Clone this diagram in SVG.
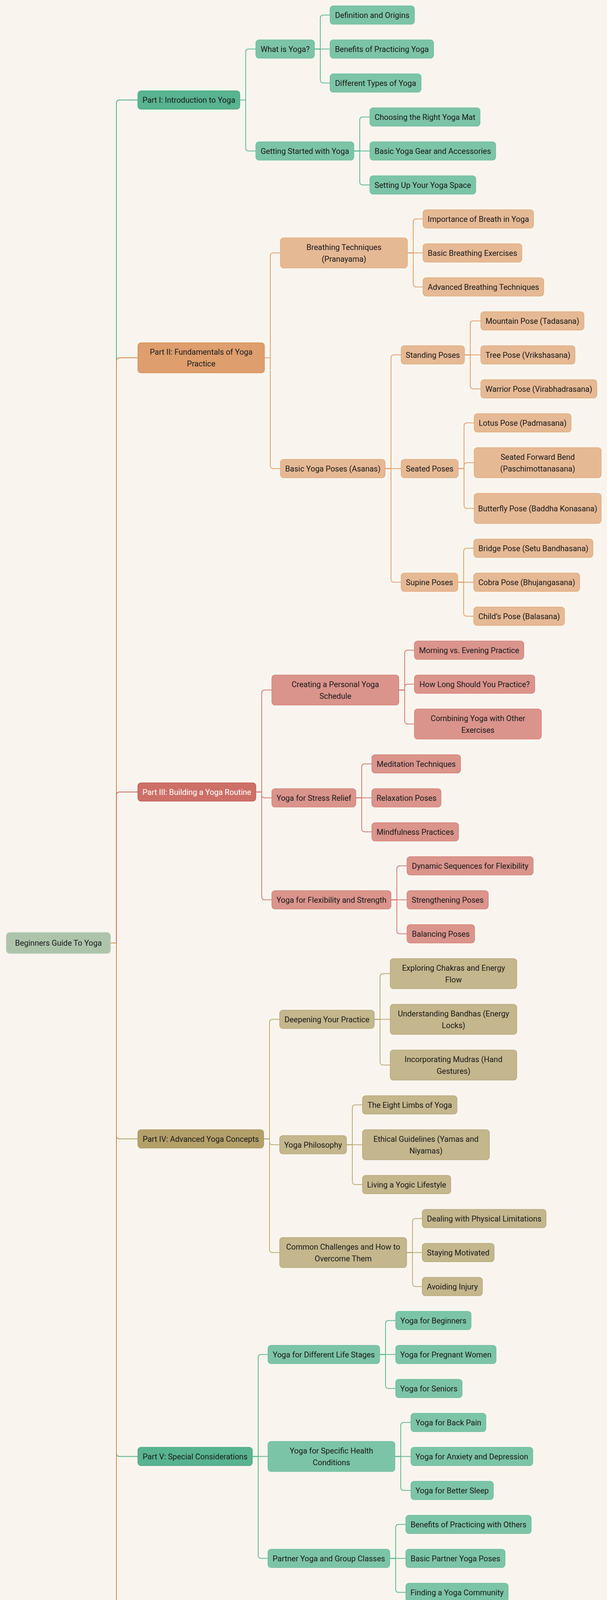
<svg xmlns="http://www.w3.org/2000/svg" width="1554" height="5019" viewBox="0 0 1554 5019">
<style>
.n rect{stroke-width:1.5}
.n text{font-family:Roboto,"Liberation Sans",Arial,sans-serif;font-size:20px;fill:#1b1b1b;text-anchor:middle;dominant-baseline:central}
.root rect{fill:#adc4ab;stroke:#c3d3c0}
.g1 rect{fill:#58b391;stroke:#4da483}
.g2 rect{fill:#7cc4a8;stroke:#6ebd9e}
.o1 rect{fill:#de9e6d;stroke:#d98d54}
.o2 rect{fill:#e6b995;stroke:#e2a878}
.r1 rect{fill:#cd6f67;stroke:#c65c54}
.r1 text{fill:#ffffff}
.r2 rect{fill:#da948c;stroke:#d58178}
.y1 rect{fill:#b3a069;stroke:#a9955d}
.y2 rect{fill:#c4b68d;stroke:#b8a779}
#connectors path{fill:none;stroke-width:2}
.cg0{stroke:#4fae89}.co0{stroke:#d78a4e}.cr0{stroke:#cc5f55}.cy0{stroke:#b09d62}
.cg{stroke:#5db893}.co{stroke:#e0a06c}.cr{stroke:#d47c74}.cy{stroke:#bba975}
</style>
<rect x="0" y="0" width="1554" height="5019" fill="#f9f5ee"/>
<g id="connectors">
<path class="cg0" d="M283 2414 H298 V264 Q298 256 306 256 H353"/>
<path class="co0" d="M283 2414 H298 V924 Q298 916 306 916 H353"/>
<path class="cr0" d="M283 2414 H298 V2035.5 Q298 2027.5 306 2027.5 H353"/>
<path class="cy0" d="M283 2414 H298 V2907.5 Q298 2915.5 306 2915.5 H353"/>
<path class="cg0" d="M283 2414 H298 V3720.5 Q298 3728.5 306 3728.5 H353"/>
<path class="co0" d="M283 2414 H298 V4548.5 Q298 4556.5 306 4556.5 H353"/>
<path class="cg" d="M614 256 H629 V133.5 Q629 125.5 637 125.5 H655"/>
<path class="cg" d="M614 256 H629 V378.5 Q629 386.5 637 386.5 H655"/>
<path class="cg" d="M805 125.5 H820 V46.5 Q820 38.5 828 38.5 H845"/>
<path class="cg" d="M805 125.5 H845"/>
<path class="cg" d="M805 125.5 H820 V204.5 Q820 212.5 828 212.5 H845"/>
<path class="cg" d="M906 386.5 H921 V307.5 Q921 299.5 929 299.5 H947"/>
<path class="cg" d="M906 386.5 H947"/>
<path class="cg" d="M906 386.5 H921 V465.5 Q921 473.5 929 473.5 H947"/>
<path class="co" d="M677 916 H692 V655.5 Q692 647.5 700 647.5 H718"/>
<path class="co" d="M677 916 H692 V1191.5 Q692 1199.5 700 1199.5 H718"/>
<path class="co" d="M1043 647.5 H1058 V568.5 Q1058 560.5 1066 560.5 H1083"/>
<path class="co" d="M1043 647.5 H1083"/>
<path class="co" d="M1043 647.5 H1058 V726.5 Q1058 734.5 1066 734.5 H1083"/>
<path class="co" d="M986 1199.5 H1001 V916.5 Q1001 908.5 1009 908.5 H1027"/>
<path class="co" d="M986 1199.5 H1027"/>
<path class="co" d="M986 1199.5 H1001 V1482.5 Q1001 1490.5 1009 1490.5 H1027"/>
<path class="co" d="M1189 908.5 H1204 V829.5 Q1204 821.5 1212 821.5 H1231"/>
<path class="co" d="M1189 908.5 H1231"/>
<path class="co" d="M1189 908.5 H1204 V987.5 Q1204 995.5 1212 995.5 H1231"/>
<path class="co" d="M1173 1199.5 H1188 V1090.5 Q1188 1082.5 1196 1082.5 H1214"/>
<path class="co" d="M1173 1199.5 H1188 V1192.5 Q1188 1184.5 1196 1184.5 H1214"/>
<path class="co" d="M1173 1199.5 H1188 V1293.5 Q1188 1301.5 1196 1301.5 H1214"/>
<path class="co" d="M1172 1490.5 H1187 V1411.5 Q1187 1403.5 1195 1403.5 H1213"/>
<path class="co" d="M1172 1490.5 H1213"/>
<path class="co" d="M1172 1490.5 H1187 V1569.5 Q1187 1577.5 1195 1577.5 H1213"/>
<path class="cr" d="M655 2027.5 H670 V1774.5 Q670 1766.5 678 1766.5 H696"/>
<path class="cr" d="M655 2027.5 H670 V2034.5 Q670 2042.5 678 2042.5 H696"/>
<path class="cr" d="M655 2027.5 H670 V2295.5 Q670 2303.5 678 2303.5 H696"/>
<path class="cr" d="M1021 1766.5 H1036 V1672.5 Q1036 1664.5 1044 1664.5 H1061"/>
<path class="cr" d="M1021 1766.5 H1036 V1759.5 Q1036 1751.5 1044 1751.5 H1061"/>
<path class="cr" d="M1021 1766.5 H1036 V1845.5 Q1036 1853.5 1044 1853.5 H1061"/>
<path class="cr" d="M911 2042.5 H926 V1963.5 Q926 1955.5 934 1955.5 H952"/>
<path class="cr" d="M911 2042.5 H952"/>
<path class="cr" d="M911 2042.5 H926 V2121.5 Q926 2129.5 934 2129.5 H952"/>
<path class="cr" d="M1001 2303.5 H1016 V2224.5 Q1016 2216.5 1024 2216.5 H1042"/>
<path class="cr" d="M1001 2303.5 H1042"/>
<path class="cr" d="M1001 2303.5 H1016 V2382.5 Q1016 2390.5 1024 2390.5 H1042"/>
<path class="cy" d="M675 2915.5 H690 V2617.5 Q690 2609.5 698 2609.5 H716"/>
<path class="cy" d="M675 2915.5 H690 V2922.5 Q690 2930.5 698 2930.5 H716"/>
<path class="cy" d="M675 2915.5 H690 V3198.5 Q690 3206.5 698 3206.5 H716"/>
<path class="cy" d="M958 2609.5 H973 V2500.5 Q973 2492.5 981 2492.5 H999"/>
<path class="cy" d="M958 2609.5 H999"/>
<path class="cy" d="M958 2609.5 H973 V2718.5 Q973 2726.5 981 2726.5 H999"/>
<path class="cy" d="M887 2930.5 H902 V2836.5 Q902 2828.5 910 2828.5 H928"/>
<path class="cy" d="M887 2930.5 H928"/>
<path class="cy" d="M887 2930.5 H902 V3024.5 Q902 3032.5 910 3032.5 H928"/>
<path class="cy" d="M1041 3206.5 H1056 V3127.5 Q1056 3119.5 1064 3119.5 H1081"/>
<path class="cy" d="M1041 3206.5 H1081"/>
<path class="cy" d="M1041 3206.5 H1056 V3285.5 Q1056 3293.5 1064 3293.5 H1081"/>
<path class="cg" d="M646 3728.5 H661 V3475.5 Q661 3467.5 669 3467.5 H686"/>
<path class="cg" d="M646 3728.5 H686"/>
<path class="cg" d="M646 3728.5 H661 V3981.5 Q661 3989.5 669 3989.5 H686"/>
<path class="cg" d="M972 3467.5 H987 V3388.5 Q987 3380.5 995 3380.5 H1013"/>
<path class="cg" d="M972 3467.5 H1013"/>
<path class="cg" d="M972 3467.5 H987 V3546.5 Q987 3554.5 995 3554.5 H1013"/>
<path class="cg" d="M1011 3728.5 H1026 V3649.5 Q1026 3641.5 1034 3641.5 H1052"/>
<path class="cg" d="M1011 3728.5 H1052"/>
<path class="cg" d="M1011 3728.5 H1026 V3807.5 Q1026 3815.5 1034 3815.5 H1052"/>
<path class="cg" d="M998 3989.5 H1013 V3910.5 Q1013 3902.5 1021 3902.5 H1039"/>
<path class="cg" d="M998 3989.5 H1039"/>
<path class="cg" d="M998 3989.5 H1013 V4068.5 Q1013 4076.5 1021 4076.5 H1039"/>
<path class="co" d="M677 4556.5 H692 V4258.5 Q692 4250.5 700 4250.5 H718"/>
<path class="co" d="M677 4556.5 H692 V4549.5 Q692 4541.5 700 4541.5 H718"/>
<path class="co" d="M677 4556.5 H692 V4854.5 Q692 4862.5 700 4862.5 H718"/>
<path class="co" d="M1043 4250.5 H1058 V4171.5 Q1058 4163.5 1066 4163.5 H1083"/>
<path class="co" d="M1043 4250.5 H1083"/>
<path class="co" d="M1043 4250.5 H1058 V4329.5 Q1058 4337.5 1066 4337.5 H1083"/>
<path class="co" d="M986 4541.5 H1001 V4432.5 Q1001 4424.5 1009 4424.5 H1027"/>
<path class="co" d="M986 4541.5 H1001 V4534.5 Q1001 4526.5 1009 4526.5 H1027"/>
<path class="co" d="M986 4541.5 H1001 V4635.5 Q1001 4643.5 1009 4643.5 H1027"/>
<path class="co" d="M1043 4862.5 H1058 V4753.5 Q1058 4745.5 1066 4745.5 H1083"/>
<path class="co" d="M1043 4862.5 H1058 V4855.5 Q1058 4847.5 1066 4847.5 H1083"/>
<path class="co" d="M1043 4862.5 H1058 V4956.5 Q1058 4964.5 1066 4964.5 H1083"/>
</g>
<g id="root" class="n root"><rect x="16" y="2387" width="267" height="54" rx="9"/><text x="149.5" y="2414">Beginners Guide To Yoga</text></g>
<g id="part1" class="n g1"><rect x="353" y="232.5" width="261" height="47" rx="8"/><text x="483.5" y="256">Part I: Introduction to Yoga</text></g>
<g id="what-is-yoga" class="n g2"><rect x="655" y="102" width="150" height="47" rx="8"/><text x="730" y="125.5">What is Yoga?</text></g>
<g id="definition" class="n g2"><rect x="845" y="15" width="216" height="47" rx="8"/><text x="953" y="38.5">Definition and Origins</text></g>
<g id="benefits" class="n g2"><rect x="845" y="102" width="265" height="47" rx="8"/><text x="977.5" y="125.5">Benefits of Practicing Yoga</text></g>
<g id="types" class="n g2"><rect x="845" y="189" width="233" height="47" rx="8"/><text x="961.5" y="212.5">Different Types of Yoga</text></g>
<g id="getting-started" class="n g2"><rect x="655" y="363" width="251" height="47" rx="8"/><text x="780.5" y="386.5">Getting Started with Yoga</text></g>
<g id="mat" class="n g2"><rect x="947" y="276" width="282" height="47" rx="8"/><text x="1088" y="299.5">Choosing the Right Yoga Mat</text></g>
<g id="gear" class="n g2"><rect x="947" y="363" width="322" height="47" rx="8"/><text x="1108" y="386.5">Basic Yoga Gear and Accessories</text></g>
<g id="space" class="n g2"><rect x="947" y="450" width="271" height="47" rx="8"/><text x="1082.5" y="473.5">Setting Up Your Yoga Space</text></g>
<g id="part2" class="n o1"><rect x="353" y="877.5" width="324" height="77" rx="8"/><text x="515" y="901">Part II: Fundamentals of Yoga</text><text x="515" y="931">Practice</text></g>
<g id="breathing" class="n o2"><rect x="718" y="609" width="325" height="77" rx="8"/><text x="880.5" y="632.5">Breathing Techniques</text><text x="880.5" y="662.5">(Pranayama)</text></g>
<g id="importance-breath" class="n o2"><rect x="1083" y="537" width="283" height="47" rx="8"/><text x="1224.5" y="560.5">Importance of Breath in Yoga</text></g>
<g id="basic-breathing" class="n o2"><rect x="1083" y="624" width="253" height="47" rx="8"/><text x="1209.5" y="647.5">Basic Breathing Exercises</text></g>
<g id="advanced-breathing" class="n o2"><rect x="1083" y="711" width="309" height="47" rx="8"/><text x="1237.5" y="734.5">Advanced Breathing Techniques</text></g>
<g id="asanas" class="n o2"><rect x="718" y="1176" width="268" height="47" rx="8"/><text x="852" y="1199.5">Basic Yoga Poses (Asanas)</text></g>
<g id="standing" class="n o2"><rect x="1027" y="885" width="162" height="47" rx="8"/><text x="1108" y="908.5">Standing Poses</text></g>
<g id="mountain" class="n o2"><rect x="1231" y="798" width="264" height="47" rx="8"/><text x="1363" y="821.5">Mountain Pose (Tadasana)</text></g>
<g id="tree" class="n o2"><rect x="1231" y="885" width="241" height="47" rx="8"/><text x="1351.5" y="908.5">Tree Pose (Vrikshasana)</text></g>
<g id="warrior" class="n o2"><rect x="1231" y="972" width="297" height="47" rx="8"/><text x="1379.5" y="995.5">Warrior Pose (Virabhadrasana)</text></g>
<g id="seated" class="n o2"><rect x="1027" y="1176" width="146" height="47" rx="8"/><text x="1100" y="1199.5">Seated Poses</text></g>
<g id="lotus" class="n o2"><rect x="1214" y="1059" width="248" height="47" rx="8"/><text x="1338" y="1082.5">Lotus Pose (Padmasana)</text></g>
<g id="forward-bend" class="n o2"><rect x="1214" y="1146" width="325" height="77" rx="8"/><text x="1376.5" y="1169.5">Seated Forward Bend</text><text x="1376.5" y="1199.5">(Paschimottanasana)</text></g>
<g id="butterfly" class="n o2"><rect x="1214" y="1263" width="325" height="77" rx="8"/><text x="1376.5" y="1301.5">Butterfly Pose (Baddha Konasana)</text></g>
<g id="supine" class="n o2"><rect x="1027" y="1467" width="145" height="47" rx="8"/><text x="1099.5" y="1490.5">Supine Poses</text></g>
<g id="bridge" class="n o2"><rect x="1213" y="1380" width="305" height="47" rx="8"/><text x="1365.5" y="1403.5">Bridge Pose (Setu Bandhasana)</text></g>
<g id="cobra" class="n o2"><rect x="1213" y="1467" width="271" height="47" rx="8"/><text x="1348.5" y="1490.5">Cobra Pose (Bhujangasana)</text></g>
<g id="child" class="n o2"><rect x="1213" y="1554" width="232" height="47" rx="8"/><text x="1329" y="1577.5">Child’s Pose (Balasana)</text></g>
<g id="part3" class="n r1"><rect x="353" y="2004" width="302" height="47" rx="8"/><text x="504" y="2027.5">Part III: Building a Yoga Routine</text></g>
<g id="schedule" class="n r2"><rect x="696" y="1728" width="325" height="77" rx="8"/><text x="858.5" y="1751.5">Creating a Personal Yoga</text><text x="858.5" y="1781.5">Schedule</text></g>
<g id="morning" class="n r2"><rect x="1061" y="1641" width="280" height="47" rx="8"/><text x="1201" y="1664.5">Morning vs. Evening Practice</text></g>
<g id="how-long" class="n r2"><rect x="1061" y="1728" width="308" height="47" rx="8"/><text x="1215" y="1751.5">How Long Should You Practice?</text></g>
<g id="combining" class="n r2"><rect x="1061" y="1815" width="325" height="77" rx="8"/><text x="1223.5" y="1838.5">Combining Yoga with Other</text><text x="1223.5" y="1868.5">Exercises</text></g>
<g id="stress" class="n r2"><rect x="696" y="2019" width="215" height="47" rx="8"/><text x="803.5" y="2042.5">Yoga for Stress Relief</text></g>
<g id="meditation" class="n r2"><rect x="952" y="1932" width="227" height="47" rx="8"/><text x="1065.5" y="1955.5">Meditation Techniques</text></g>
<g id="relaxation" class="n r2"><rect x="952" y="2019" width="177" height="47" rx="8"/><text x="1040.5" y="2042.5">Relaxation Poses</text></g>
<g id="mindfulness" class="n r2"><rect x="952" y="2106" width="222" height="47" rx="8"/><text x="1063" y="2129.5">Mindfulness Practices</text></g>
<g id="flexibility" class="n r2"><rect x="696" y="2280" width="305" height="47" rx="8"/><text x="848.5" y="2303.5">Yoga for Flexibility and Strength</text></g>
<g id="dynamic" class="n r2"><rect x="1042" y="2193" width="323" height="47" rx="8"/><text x="1203.5" y="2216.5">Dynamic Sequences for Flexibility</text></g>
<g id="strengthening" class="n r2"><rect x="1042" y="2280" width="208" height="47" rx="8"/><text x="1146" y="2303.5">Strengthening Poses</text></g>
<g id="balancing" class="n r2"><rect x="1042" y="2367" width="173" height="47" rx="8"/><text x="1128.5" y="2390.5">Balancing Poses</text></g>
<g id="part4" class="n y1"><rect x="353" y="2892" width="322" height="47" rx="8"/><text x="514" y="2915.5">Part IV: Advanced Yoga Concepts</text></g>
<g id="deepening" class="n y2"><rect x="716" y="2586" width="242" height="47" rx="8"/><text x="837" y="2609.5">Deepening Your Practice</text></g>
<g id="chakras" class="n y2"><rect x="999" y="2454" width="324" height="77" rx="8"/><text x="1161" y="2477.5">Exploring Chakras and Energy</text><text x="1161" y="2507.5">Flow</text></g>
<g id="bandhas" class="n y2"><rect x="999" y="2571" width="324" height="77" rx="8"/><text x="1161" y="2594.5">Understanding Bandhas (Energy</text><text x="1161" y="2624.5">Locks)</text></g>
<g id="mudras" class="n y2"><rect x="999" y="2688" width="324" height="77" rx="8"/><text x="1161" y="2711.5">Incorporating Mudras (Hand</text><text x="1161" y="2741.5">Gestures)</text></g>
<g id="philosophy" class="n y2"><rect x="716" y="2907" width="171" height="47" rx="8"/><text x="801.5" y="2930.5">Yoga Philosophy</text></g>
<g id="eight-limbs" class="n y2"><rect x="928" y="2805" width="242" height="47" rx="8"/><text x="1049" y="2828.5">The Eight Limbs of Yoga</text></g>
<g id="ethical" class="n y2"><rect x="928" y="2892" width="325" height="77" rx="8"/><text x="1090.5" y="2915.5">Ethical Guidelines (Yamas and</text><text x="1090.5" y="2945.5">Niyamas)</text></g>
<g id="lifestyle" class="n y2"><rect x="928" y="3009" width="226" height="47" rx="8"/><text x="1041" y="3032.5">Living a Yogic Lifestyle</text></g>
<g id="challenges" class="n y2"><rect x="716" y="3168" width="325" height="77" rx="8"/><text x="878.5" y="3191.5">Common Challenges and How to</text><text x="878.5" y="3221.5">Overcome Them</text></g>
<g id="limitations" class="n y2"><rect x="1081" y="3096" width="317" height="47" rx="8"/><text x="1239.5" y="3119.5">Dealing with Physical Limitations</text></g>
<g id="motivated" class="n y2"><rect x="1081" y="3183" width="184" height="47" rx="8"/><text x="1173" y="3206.5">Staying Motivated</text></g>
<g id="injury" class="n y2"><rect x="1081" y="3270" width="154" height="47" rx="8"/><text x="1158" y="3293.5">Avoiding Injury</text></g>
<g id="part5" class="n g1"><rect x="353" y="3705" width="293" height="47" rx="8"/><text x="499.5" y="3728.5">Part V: Special Considerations</text></g>
<g id="life-stages" class="n g2"><rect x="686" y="3444" width="286" height="47" rx="8"/><text x="829" y="3467.5">Yoga for Different Life Stages</text></g>
<g id="beginners" class="n g2"><rect x="1013" y="3357" width="193" height="47" rx="8"/><text x="1109.5" y="3380.5">Yoga for Beginners</text></g>
<g id="pregnant" class="n g2"><rect x="1013" y="3444" width="257" height="47" rx="8"/><text x="1141.5" y="3467.5">Yoga for Pregnant Women</text></g>
<g id="seniors" class="n g2"><rect x="1013" y="3531" width="170" height="47" rx="8"/><text x="1098" y="3554.5">Yoga for Seniors</text></g>
<g id="health" class="n g2"><rect x="686" y="3690" width="325" height="77" rx="8"/><text x="848.5" y="3713.5">Yoga for Specific Health</text><text x="848.5" y="3743.5">Conditions</text></g>
<g id="back-pain" class="n g2"><rect x="1052" y="3618" width="192" height="47" rx="8"/><text x="1148" y="3641.5">Yoga for Back Pain</text></g>
<g id="anxiety" class="n g2"><rect x="1052" y="3705" width="312" height="47" rx="8"/><text x="1208" y="3728.5">Yoga for Anxiety and Depression</text></g>
<g id="sleep" class="n g2"><rect x="1052" y="3792" width="211" height="47" rx="8"/><text x="1157.5" y="3815.5">Yoga for Better Sleep</text></g>
<g id="partner" class="n g2"><rect x="686" y="3966" width="312" height="47" rx="8"/><text x="842" y="3989.5">Partner Yoga and Group Classes</text></g>
<g id="benefits-others" class="n g2"><rect x="1039" y="3879" width="321" height="47" rx="8"/><text x="1199.5" y="3902.5">Benefits of Practicing with Others</text></g>
<g id="partner-poses" class="n g2"><rect x="1039" y="3966" width="254" height="47" rx="8"/><text x="1166" y="3989.5">Basic Partner Yoga Poses</text></g>
<g id="community" class="n g2"><rect x="1039" y="4053" width="262" height="47" rx="8"/><text x="1170" y="4076.5">Finding a Yoga Community</text></g>
<g id="part6" class="n o1"><rect x="353" y="4518" width="324" height="77" rx="8"/><text x="515" y="4541.5">Part VI: Resources and Further</text><text x="515" y="4571.5">Learning</text></g>
<g id="reading" class="n o2"><rect x="718" y="4212" width="325" height="77" rx="8"/><text x="880.5" y="4235.5">Recommended Reading and</text><text x="880.5" y="4265.5">References</text></g>
<g id="classic" class="n o2"><rect x="1083" y="4140" width="192" height="47" rx="8"/><text x="1179" y="4163.5">Classic Yoga Texts</text></g>
<g id="modern" class="n o2"><rect x="1083" y="4227" width="210" height="47" rx="8"/><text x="1188" y="4250.5">Modern Yoga Guides</text></g>
<g id="inspirational" class="n o2"><rect x="1083" y="4314" width="194" height="47" rx="8"/><text x="1180" y="4337.5">Inspirational Books</text></g>
<g id="online" class="n o2"><rect x="718" y="4518" width="268" height="47" rx="8"/><text x="852" y="4541.5">Online Resources and Apps</text></g>
<g id="apps" class="n o2"><rect x="1027" y="4401" width="288" height="47" rx="8"/><text x="1171" y="4424.5">Best Yoga Apps for Beginners</text></g>
<g id="youtube" class="n o2"><rect x="1027" y="4488" width="323" height="77" rx="8"/><text x="1188.5" y="4511.5">YouTube Channels for Yoga</text><text x="1188.5" y="4541.5">Tutorials</text></g>
<g id="online-classes" class="n o2"><rect x="1027" y="4605" width="323" height="77" rx="8"/><text x="1188.5" y="4628.5">Online Yoga Classes and</text><text x="1188.5" y="4658.5">Workshops</text></g>
<g id="instructor" class="n o2"><rect x="718" y="4824" width="325" height="77" rx="8"/><text x="880.5" y="4847.5">Finding a Qualified Yoga</text><text x="880.5" y="4877.5">Instructor</text></g>
<g id="teacher" class="n o2"><rect x="1083" y="4722" width="285" height="47" rx="8"/><text x="1225.5" y="4745.5">What to Look for in a Teacher</text></g>
<g id="questions" class="n o2"><rect x="1083" y="4809" width="324" height="77" rx="8"/><text x="1245" y="4832.5">Questions to Ask Before Joining a</text><text x="1245" y="4862.5">Class</text></g>
<g id="certification" class="n o2"><rect x="1083" y="4926" width="324" height="77" rx="8"/><text x="1245" y="4949.5">Certification and Training</text><text x="1245" y="4979.5">Programs</text></g>
</svg>
